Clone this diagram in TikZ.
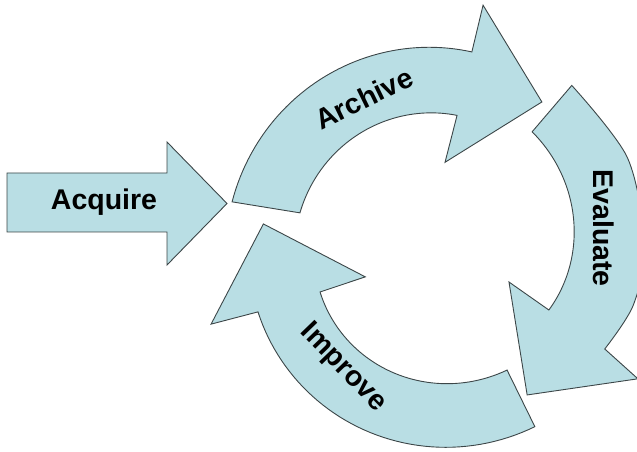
\documentclass[tikz,border=0pt]{standalone}
\usepackage{fontspec}
\setmainfont{Liberation Sans}
\definecolor{cyclefill}{RGB}{185,222,228}
\definecolor{edgegray}{RGB}{60,70,72}
\begin{document}
\begin{tikzpicture}[x=1pt,y=1pt,
  band/.style={fill=cyclefill, draw=edgegray, line width=0.9pt, line join=miter},
  captext/.style={font=\fontsize{28.5}{31}\selectfont\bfseries, text=black, inner sep=0pt}]
\useasboundingbox (0,0) rectangle (637,452);
\clip (0,0) rectangle (637,452);

% straight input arrow
\draw[band] (7,279) -- (167,279) -- (167,310) -- (227,248.5) -- (167,187)
  -- (167,220) -- (7,220) -- cycle;
\node[captext] (acquire) at (104,250) {Acquire};

% the three curved arrows of the cycle, drawn around a common centre
\begin{scope}[shift={(438,206)}]
  % Archive
  \draw[band]
    plot[domain=167.9:80.1,samples=50] (\x:{210.6+(197-210.6)*(\x-167.9)/(80.1-167.9)})
    -- (79.4:245) -- (54.2:177.6) -- (85.2:84)
    -- plot[domain=81.7:166.5,samples=50] (\x:{132+(142-132)*(\x-81.7)/(166.5-81.7)})
    -- cycle;
  % Evaluate
  \draw[band]
    plot[smooth] coordinates {(50.2:209) (25:209) (0:207) (-17:204) (-31.7:196)}
    -- (-33.6:240) -- (-59.1:173.6) -- (-26.9:79.6)
    -- plot[domain=-30:50.5,samples=50] (\x:{128+(148-128)*(\x+30)/80.5})
    -- cycle;
  % Improve
  \draw[band]
    plot[domain=-61.8:-159.9,samples=50] (\x:{205+(191.7-205)*(\x+61.8)/(-159.9+61.8)})
    -- (-161:240) -- (-187.2:176) -- (-157:79)
    -- plot[domain=-158.7:-60.9,samples=50] (\x:{126.6+(142-126.6)*(\x+158.7)/97.8})
    -- cycle;
\end{scope}

\node[captext, rotate=26] (archive) at (364,354) {Archive};
\node[captext, rotate=-90] (evaluate) at (604,224) {Evaluate};
\node[captext, rotate=-46] (improve) at (343,84) {Improve};
\end{tikzpicture}
\end{document}
